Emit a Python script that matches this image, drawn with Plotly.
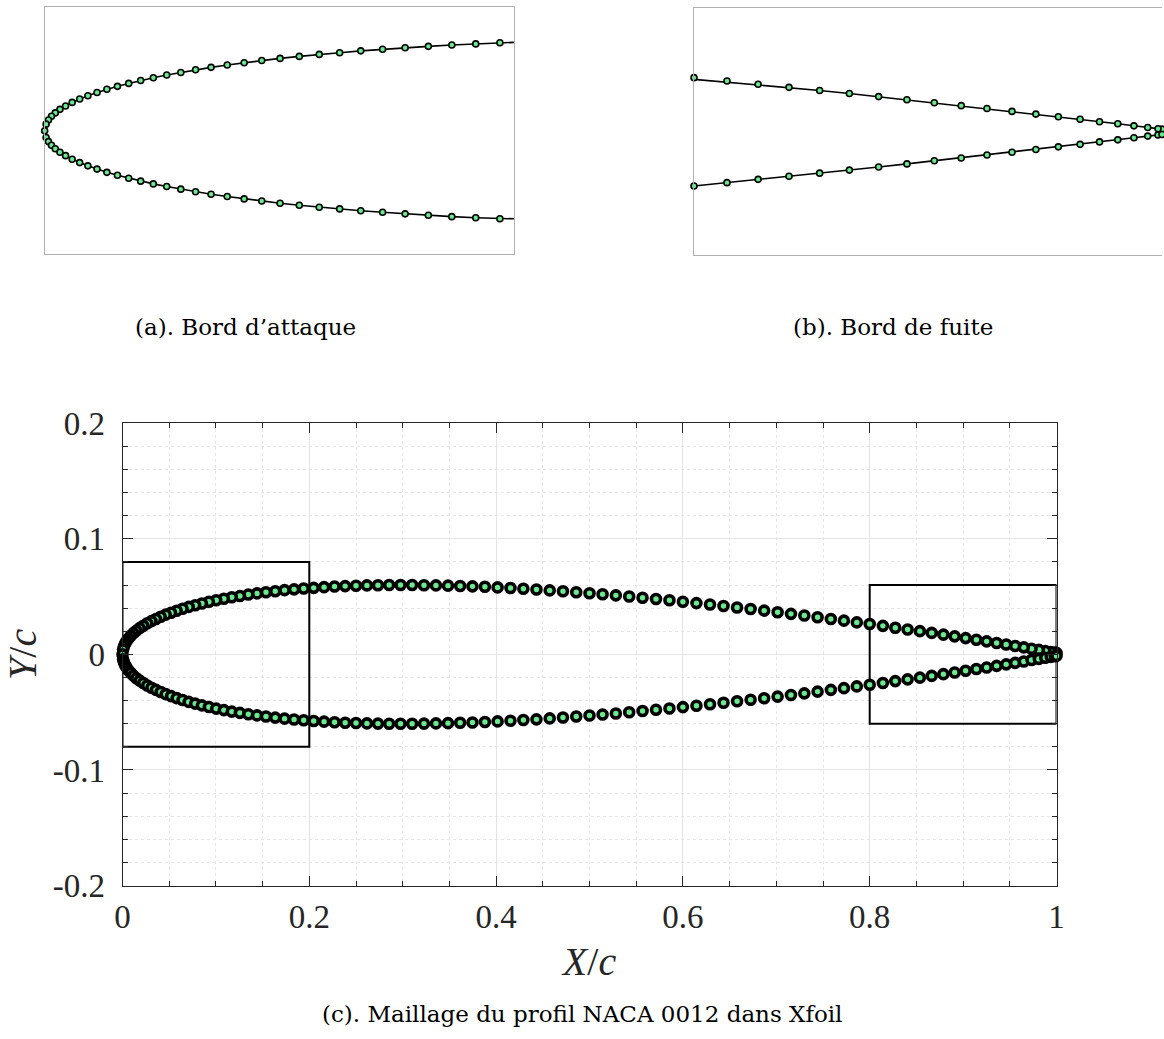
import plotly.graph_objects as go

# ---------------- data (NACA 0012 panel nodes, upper surface LE -> TE) ----------------
x_upper = [0.0000, 0.0006, 0.0016, 0.0029, 0.0045, 0.0065, 0.0089, 0.0117, 0.0149, 0.0184,
           0.0223, 0.0265, 0.0310, 0.0358, 0.0409, 0.0463, 0.0520, 0.0580, 0.0643, 0.0709,
           0.0778, 0.0850, 0.0925, 0.1003, 0.1085, 0.1170, 0.1257, 0.1347, 0.1440, 0.1536,
           0.1635, 0.1735, 0.1837, 0.1940,
           0.2047, 0.2158, 0.2270, 0.2384, 0.2500, 0.2617, 0.2735, 0.2855, 0.2977, 0.3101,
           0.3228, 0.3356, 0.3485, 0.3615, 0.3747, 0.3880, 0.4016, 0.4154, 0.4292, 0.4432,
           0.4574, 0.4716, 0.4858, 0.5000, 0.5140, 0.5282, 0.5425, 0.5568, 0.5712, 0.5856,
           0.6000, 0.6145, 0.6290, 0.6435, 0.6580, 0.6725, 0.6870, 0.7014, 0.7157, 0.7300,
           0.7442, 0.7584, 0.7724, 0.7862, 0.8000,
           0.8141, 0.8274, 0.8406, 0.8537, 0.8664, 0.8789, 0.8910, 0.9027, 0.9142, 0.9252,
           0.9359, 0.9461, 0.9557, 0.9650, 0.9733, 0.9811, 0.9880, 0.9939, 0.9983, 1.0000]

y_upper = [0.0000, 0.0043, 0.0070, 0.0094, 0.0116, 0.0139, 0.0161, 0.0184, 0.0206, 0.0227,
           0.0248, 0.0269, 0.0288, 0.0307, 0.0326, 0.0344, 0.0361, 0.0378, 0.0395, 0.0411,
           0.0426, 0.0441, 0.0455, 0.0469, 0.0482, 0.0495, 0.0506, 0.0518, 0.0528, 0.0538,
           0.0547, 0.0556, 0.0563, 0.0570,
           0.0576, 0.0582, 0.0587, 0.0591, 0.0594, 0.0597, 0.0599, 0.0600, 0.0600, 0.0600,
           0.0599, 0.0597, 0.0595, 0.0592, 0.0589, 0.0585, 0.0580, 0.0574, 0.0568, 0.0562,
           0.0554, 0.0546, 0.0538, 0.0529, 0.0520, 0.0511, 0.0501, 0.0490, 0.0479, 0.0468,
           0.0456, 0.0444, 0.0432, 0.0419, 0.0406, 0.0393, 0.0379, 0.0365, 0.0351, 0.0337,
           0.0322, 0.0307, 0.0292, 0.0277, 0.0263,
           0.0247, 0.0231, 0.0216, 0.0201, 0.0186, 0.0171, 0.0156, 0.0141, 0.0127, 0.0113,
           0.0099, 0.0086, 0.0073, 0.0061, 0.0049, 0.0039, 0.0029, 0.0021, 0.0015, 0.0013]

y_lower = [-0.0000, -0.0043, -0.0070, -0.0094, -0.0116, -0.0139, -0.0161, -0.0184, -0.0206, -0.0227,
           -0.0248, -0.0269, -0.0288, -0.0307, -0.0326, -0.0344, -0.0361, -0.0378, -0.0395, -0.0411,
           -0.0426, -0.0441, -0.0455, -0.0469, -0.0482, -0.0495, -0.0506, -0.0518, -0.0528, -0.0538,
           -0.0547, -0.0556, -0.0563, -0.0570,
           -0.0576, -0.0582, -0.0587, -0.0591, -0.0594, -0.0597, -0.0599, -0.0600, -0.0600, -0.0600,
           -0.0599, -0.0597, -0.0595, -0.0592, -0.0589, -0.0585, -0.0580, -0.0574, -0.0568, -0.0562,
           -0.0554, -0.0546, -0.0538, -0.0529, -0.0520, -0.0511, -0.0501, -0.0490, -0.0479, -0.0468,
           -0.0456, -0.0444, -0.0432, -0.0419, -0.0406, -0.0393, -0.0379, -0.0365, -0.0351, -0.0337,
           -0.0322, -0.0307, -0.0292, -0.0277, -0.0263,
           -0.0247, -0.0231, -0.0216, -0.0201, -0.0186, -0.0171, -0.0156, -0.0141, -0.0127, -0.0113,
           -0.0099, -0.0086, -0.0073, -0.0061, -0.0049, -0.0039, -0.0029, -0.0021, -0.0015, -0.0013]
x_lower = x_upper

# zoom windows [x0, x1, y0, y1]
box_le = [0.0, 0.2, -0.08, 0.08]
box_te = [0.8, 1.0, -0.06, 0.06]

x_tickvals = [0, 0.2, 0.4, 0.6, 0.8, 1.0]
x_ticktext = ["0", "0.2", "0.4", "0.6", "0.8", "1"]
y_tickvals = [-0.2, -0.1, 0.0, 0.1, 0.2]
y_ticktext = ["-0.2", "-0.1", "0", "0.1", "0.2"]

captions = ["(a). Bord d\u2019attaque", "(b). Bord de fuite",
            "(c). Maillage du profil NACA 0012 dans Xfoil"]

# ---------------- build ----------------
# Xfoil ordering: TE (upper) -> LE -> TE (lower)
xs = x_upper[::-1] + x_lower[1:]
ys = y_upper[::-1] + y_lower[1:]

GREEN = "#6AEA8E"
W, H = 1164, 1039

def px_x(a, b):
    return [a / W, b / W]

def px_y(top, bottom):
    return [1 - bottom / H, 1 - top / H]

def inside(box):
    pts = [(x, y) for x, y in zip(xs, ys)
           if box[0] - 1e-9 <= x <= box[1] + 1e-9 and box[2] <= y <= box[3]]
    return [p[0] for p in pts], [p[1] for p in pts]

fig = go.Figure()

# main plot (c)
fig.add_trace(go.Scatter(
    x=xs, y=ys, mode="markers", xaxis="x3", yaxis="y3", cliponaxis=False,
    marker=dict(symbol="circle", size=9, color=GREEN,
                line=dict(color="black", width=3.6)),
    showlegend=False, hoverinfo="skip"))

# inset (a) and (b): line + markers
for ax, box in (("", box_le), ("2", box_te)):
    fig.add_trace(go.Scatter(
        x=xs, y=ys, mode="lines", xaxis="x" + ax, yaxis="y" + ax,
        line=dict(color="black", width=1.6), showlegend=False, hoverinfo="skip"))
    mx, my = inside(box)
    fig.add_trace(go.Scatter(
        x=mx, y=my, mode="markers", xaxis="x" + ax, yaxis="y" + ax, cliponaxis=False,
        marker=dict(symbol="circle", size=6, color=GREEN,
                    line=dict(color="black", width=1.6)),
        showlegend=False, hoverinfo="skip"))

inset_axis = dict(showgrid=False, zeroline=False, showticklabels=False, ticks="",
                  showline=True, linecolor="#b0b0b0", linewidth=1, automargin=False)

AX_FONT = dict(family="Liberation Serif, Times New Roman, serif", size=33, color="#262626")
TITLE_FONT = dict(family="Liberation Serif, Times New Roman, serif", size=40, color="#262626")

fig.update_layout(
    width=W, height=H,
    margin=dict(l=0, r=0, t=0, b=0, pad=0, autoexpand=False),
    paper_bgcolor="white", plot_bgcolor="white",
    xaxis=dict(domain=px_x(44.7, 514), range=[box_le[0], box_le[1]], anchor="y",
               mirror=True, **inset_axis),
    yaxis=dict(domain=px_y(7.3, 254.3), range=[box_le[2], box_le[3]], anchor="x",
               mirror=True, **inset_axis),
    xaxis2=dict(domain=px_x(694, 1162), range=[box_te[0], box_te[1]], anchor="y2",
                mirror=True, **inset_axis),
    yaxis2=dict(domain=px_y(8.3, 255.3), range=[box_te[2], box_te[3]], anchor="x2",
                mirror=False, **inset_axis),
    xaxis3=dict(domain=px_x(122.5, 1056.5), range=[0, 1], anchor="y3", automargin=False,
                tickvals=x_tickvals, ticktext=x_ticktext, tickfont=AX_FONT,
                ticks="inside", ticklen=10, tickcolor="#262626", tickwidth=1,
                showline=True, mirror="ticks", linecolor="#262626", linewidth=1,
                showgrid=True, gridcolor="#e4e4e4", gridwidth=1, zeroline=False,
                ticklabelstandoff=2,
                minor=dict(dtick=0.05, ticks="inside", ticklen=5, tickcolor="#262626",
                           showgrid=True, gridcolor="#e6e6e6", griddash="dot", gridwidth=1),
                title=dict(text="<i>X</i>/<i>c</i>", font=TITLE_FONT, standoff=12)),
    yaxis3=dict(domain=px_y(423.3, 885.5), range=[-0.2, 0.2], anchor="x3", automargin=False,
                tickvals=y_tickvals, ticktext=y_ticktext, tickfont=AX_FONT,
                ticks="inside", ticklen=10, tickcolor="#262626", tickwidth=1,
                showline=True, mirror="ticks", linecolor="#262626", linewidth=1,
                showgrid=True, gridcolor="#e4e4e4", gridwidth=1, zeroline=False,
                ticklabelstandoff=10,
                minor=dict(dtick=0.02, ticks="inside", ticklen=5, tickcolor="#262626",
                           showgrid=True, gridcolor="#e6e6e6", griddash="dot", gridwidth=1),
                title=dict(text="<i>Y</i>/<i>c</i>", font=TITLE_FONT, standoff=10)),
)

for b in (box_le, box_te):
    fig.add_shape(type="rect", xref="x3", yref="y3", x0=b[0], x1=b[1], y0=b[2], y1=b[3],
                  line=dict(color="black", width=2), layer="between")

CAP_FONT = dict(family="DejaVu Serif, serif", size=23, color="black")
for text, cx, cy in ((captions[0], 245, 327), (captions[1], 893, 327), (captions[2], 582, 1014)):
    fig.add_annotation(text=text, xref="paper", yref="paper", x=cx / W, y=1 - cy / H,
                       xanchor="center", yanchor="middle", showarrow=False, font=CAP_FONT)

fig.write_html("out.html",
               config={"displayModeBar": False},
               post_script="document.body.style.margin='0px';document.body.style.padding='0px';")
